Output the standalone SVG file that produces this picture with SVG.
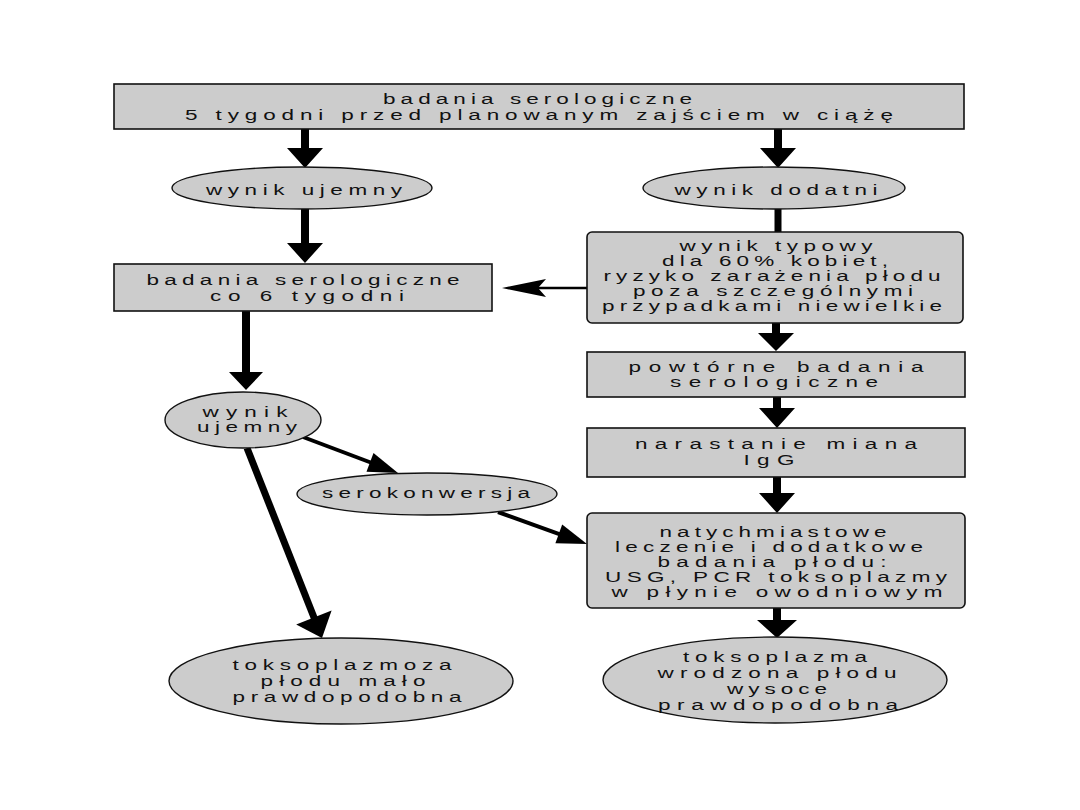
<svg xmlns="http://www.w3.org/2000/svg" width="1080" height="810" viewBox="0 0 1080 810">
<style>
.box{fill:#cccccc;stroke:#111;stroke-width:1.6}
.ell{fill:#cccccc;stroke:#111;stroke-width:1.4}
.t{font-family:"Liberation Sans",Arial,sans-serif;font-size:15px;fill:#111;text-anchor:middle}
.ah{fill:#000;stroke:none}
.ln{stroke:#000;fill:none}
</style>
<rect width="1080" height="810" fill="#fff"/>
<g id="connectors">
<path class="ah" d="M301,129 L309,129 L309,148 L323,148 L305,168 L287,148 L301,148 Z"/>
<path class="ah" d="M301,209 L309,209 L309,243 L323,243 L305,263 L287,243 L301,243 Z"/>
<path class="ah" d="M774,129 L782,129 L782,148 L796,148 L778,168 L760,148 L774,148 Z"/>
<path class="ah" d="M774.5,209 L781.5,209 L781.5,233 L774.5,233 Z"/>
<path class="ah" d="M772,323 L780,323 L780,333 L794,333 L776,351 L758,333 L772,333 Z"/>
<path class="ah" d="M773,397 L781,397 L781,408 L795,408 L777,428 L759,408 L773,408 Z"/>
<path class="ah" d="M773,477 L781,477 L781,493 L795,493 L777,513 L759,493 L773,493 Z"/>
<path class="ah" d="M773,608 L781,608 L781,620 L797,620 L777,638 L757,620 L773,620 Z"/>
<path class="ah" d="M242,311 L250,311 L250,372 L263,372 L246,390 L229,372 L242,372 Z"/>
<line class="ln" x1="587" y1="288" x2="538" y2="288" stroke-width="2.5"/>
<path class="ah" d="M502,288 L546,279 L538,288 L546,297 Z"/>
<line class="ln" x1="303" y1="437" x2="372" y2="463" stroke-width="4"/>
<path class="ah" d="M398,473 L366.5,471.8 L373.5,453.1 Z"/>
<line class="ln" x1="498" y1="512" x2="560" y2="534.3" stroke-width="4"/>
<path class="ah" d="M587,544 L555.4,543.3 L562.2,524.5 Z"/>
<line class="ln" x1="247" y1="448" x2="315" y2="620" stroke-width="7"/>
<path class="ah" d="M322,638 L296.2,624.5 L331.6,610.5 Z"/>
</g>
<g id="n_top">
<rect class="box" x="114" y="84" width="850" height="45"/>
<text class="t" transform="translate(537.5,0) scale(1.5,1)" x="0" y="104" textLength="206" lengthAdjust="spacing">badania serologiczne</text>
<text class="t" transform="translate(539,0) scale(1.5,1)" x="0" y="120" textLength="472" lengthAdjust="spacing">5 tygodni przed planowanym zajściem w ciążę</text>
</g>
<g id="n_ujemny1">
<ellipse class="ell" cx="302" cy="188" rx="130" ry="21"/>
<text class="t" transform="translate(304,0) scale(1.5,1)" x="0" y="195" textLength="130.7" lengthAdjust="spacing">wynik ujemny</text>
</g>
<g id="n_dodatni">
<ellipse class="ell" cx="774" cy="188" rx="131" ry="21"/>
<text class="t" transform="translate(776,0) scale(1.5,1)" x="0" y="195" textLength="135.3" lengthAdjust="spacing">wynik dodatni</text>
</g>
<g id="n_co6">
<rect class="box" x="114" y="264" width="378" height="47"/>
<text class="t" transform="translate(303,0) scale(1.5,1)" x="0" y="285" textLength="208.7" lengthAdjust="spacing">badania serologiczne</text>
<text class="t" transform="translate(307,0) scale(1.5,1)" x="0" y="301" textLength="129.3" lengthAdjust="spacing">co 6 tygodni</text>
</g>
<g id="n_typowy">
<rect class="box" x="587" y="232" width="376" height="91" rx="5"/>
<text class="t" transform="translate(776,0) scale(1.5,1)" x="0" y="251" textLength="128.7" lengthAdjust="spacing">wynik typowy</text>
<text class="t" transform="translate(775,0) scale(1.5,1)" x="0" y="266" textLength="150.7" lengthAdjust="spacing">dla 60% kobiet,</text>
<text class="t" transform="translate(772,0) scale(1.5,1)" x="0" y="281" textLength="224.7" lengthAdjust="spacing">ryzyko zarażenia płodu</text>
<text class="t" transform="translate(773,0) scale(1.5,1)" x="0" y="296" textLength="186.7" lengthAdjust="spacing">poza szczególnymi</text>
<text class="t" transform="translate(772,0) scale(1.5,1)" x="0" y="311" textLength="226.7" lengthAdjust="spacing">przypadkami niewielkie</text>
</g>
<g id="n_powtorne">
<rect class="box" x="587" y="352" width="378" height="45"/>
<text class="t" transform="translate(776,0) scale(1.5,1)" x="0" y="372" textLength="196.7" lengthAdjust="spacing">powtórne badania</text>
<text class="t" transform="translate(774,0) scale(1.5,1)" x="0" y="387" textLength="138.7" lengthAdjust="spacing">serologiczne</text>
</g>
<g id="n_narastanie">
<rect class="box" x="587" y="428" width="378" height="49"/>
<text class="t" transform="translate(776,0) scale(1.5,1)" x="0" y="449" textLength="188" lengthAdjust="spacing">narastanie miana</text>
<text class="t" transform="translate(769,0) scale(1.5,1)" x="0" y="465" textLength="34" lengthAdjust="spacing">IgG</text>
</g>
<g id="n_leczenie">
<rect class="box" x="587" y="513" width="378" height="95" rx="5"/>
<text class="t" transform="translate(773,0) scale(1.5,1)" x="0" y="537" textLength="151.3" lengthAdjust="spacing">natychmiastowe</text>
<text class="t" transform="translate(769,0) scale(1.5,1)" x="0" y="552" textLength="205.3" lengthAdjust="spacing">leczenie i dodatkowe</text>
<text class="t" transform="translate(772,0) scale(1.5,1)" x="0" y="567" textLength="152.7" lengthAdjust="spacing">badania płodu:</text>
<text class="t" transform="translate(776,0) scale(1.5,1)" x="0" y="582" textLength="228" lengthAdjust="spacing">USG, PCR toksoplazmy</text>
<text class="t" transform="translate(777,0) scale(1.5,1)" x="0" y="597" textLength="220.7" lengthAdjust="spacing">w płynie owodniowym</text>
</g>
<g id="n_ujemny2">
<ellipse class="ell" cx="243" cy="420" rx="78" ry="28"/>
<text class="t" transform="translate(245,0) scale(1.5,1)" x="0" y="417" textLength="56.7" lengthAdjust="spacing">wynik</text>
<text class="t" transform="translate(247,0) scale(1.5,1)" x="0" y="432" textLength="66.7" lengthAdjust="spacing">ujemny</text>
</g>
<g id="n_serokonwersja">
<ellipse class="ell" cx="427" cy="494" rx="130" ry="21"/>
<text class="t" transform="translate(426,0) scale(1.5,1)" x="0" y="498" textLength="138.7" lengthAdjust="spacing">serokonwersja</text>
</g>
<g id="n_malo">
<ellipse class="ell" cx="341" cy="681" rx="172" ry="43"/>
<text class="t" transform="translate(342,0) scale(1.5,1)" x="0" y="670" textLength="146" lengthAdjust="spacing">toksoplazmoza</text>
<text class="t" transform="translate(343,0) scale(1.5,1)" x="0" y="686" textLength="110" lengthAdjust="spacing">płodu mało</text>
<text class="t" transform="translate(347,0) scale(1.5,1)" x="0" y="702" textLength="152.7" lengthAdjust="spacing">prawdopodobna</text>
</g>
<g id="n_wysoce">
<ellipse class="ell" cx="775" cy="680" rx="172" ry="43"/>
<text class="t" transform="translate(775,0) scale(1.5,1)" x="0" y="662" textLength="122.7" lengthAdjust="spacing">toksoplazma</text>
<text class="t" transform="translate(777,0) scale(1.5,1)" x="0" y="678" textLength="159.3" lengthAdjust="spacing">wrodzona płodu</text>
<text class="t" transform="translate(777,0) scale(1.5,1)" x="0" y="694" textLength="66.7" lengthAdjust="spacing">wysoce</text>
<text class="t" transform="translate(778,0) scale(1.5,1)" x="0" y="710" textLength="160" lengthAdjust="spacing">prawdopodobna</text>
</g>
</svg>
